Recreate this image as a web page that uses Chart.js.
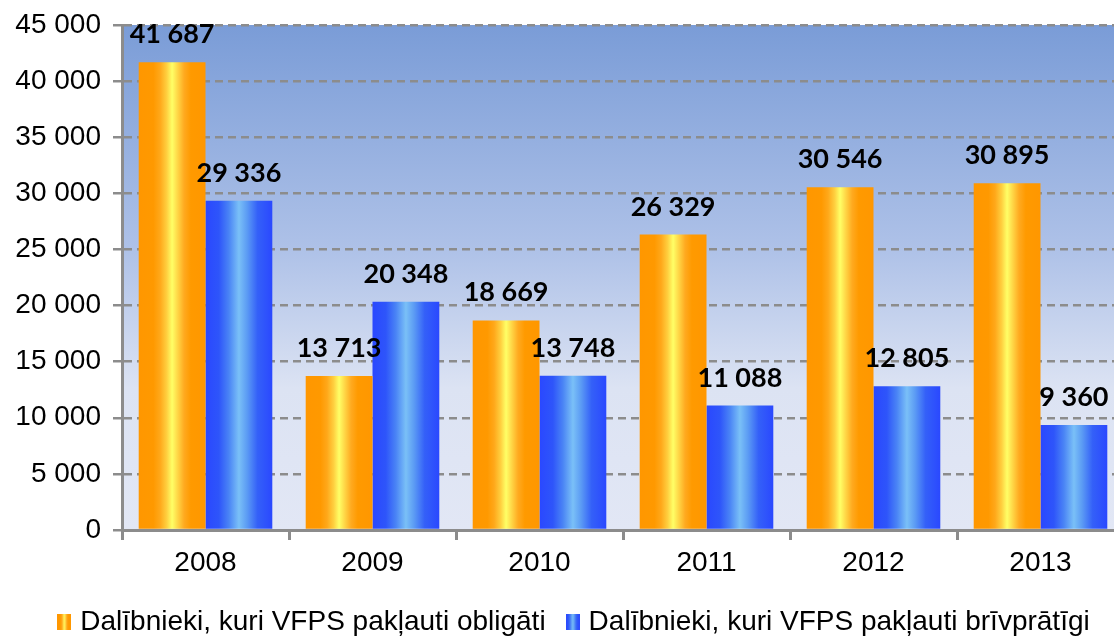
<!DOCTYPE html>
<html>
<head>
<meta charset="utf-8">
<script src="https://cdn.jsdelivr.net/npm/chart.js@4/dist/chart.umd.min.js"></script>
<style>
html,body{margin:0;padding:0;background:#fff;overflow:hidden;}
#wrap{position:absolute;left:0;top:0;width:1180px;height:637px;}
</style>
</head>
<body>
<div id="wrap"><canvas id="c"></canvas></div>
<script>
const categories = ['2008','2009','2010','2011','2012','2013'];
const obligati = [41687,13713,18669,26329,30546,30895];
const brivpratigi = [29336,20348,13748,11088,12805,9360];
const seriesNames = ['Dalībnieki, kuri VFPS pakļauti obligāti','Dalībnieki, kuri VFPS pakļauti brīvprātīgi'];
const yMax = 45000, yStep = 5000;

const orangeStops = [[0,'#FF9700'],[0.22,'#FF9900'],[0.32,'#FFA81A'],[0.42,'#FFD040'],[0.5,'#FFFF66'],[0.58,'#FFD848'],[0.68,'#FFAA20'],[0.78,'#FF9A00'],[1,'#FF9700']];
const blueStops = [[0,'#2A48FF'],[0.2,'#2E55FA'],[0.35,'#4A84F5'],[0.5,'#7AC0F7'],[0.62,'#5C9CF4'],[0.78,'#3460F8'],[1,'#2A48FF']];

function fmt(v){return String(v).replace(/\B(?=(\d{3})+(?!\d))/g,' ');}

function barGrad(ctx, side){
  const chart = ctx.chart, xs = chart.scales && chart.scales.x;
  const stops = side===0 ? orangeStops : blueStops;
  if(!xs || !chart.chartArea || ctx.dataIndex===undefined) return stops[1][1];
  const c = xs.getPixelForValue(ctx.dataIndex);
  const cw = xs.width / categories.length;
  const bw = cw*0.8/2;
  const x0 = side===0 ? c-bw : c;
  const g = chart.ctx.createLinearGradient(x0,0,x0+bw,0);
  stops.forEach(s=>g.addColorStop(s[0],s[1]));
  return g;
}

function legendIcon(stops){
  const cv = document.createElement('canvas');
  cv.width = 14; cv.height = 16;
  const x = cv.getContext('2d');
  const g = x.createLinearGradient(0,0,14,0);
  stops.forEach(s=>g.addColorStop(s[0],s[1]));
  x.fillStyle = g; x.fillRect(0,0,14,16);
  return cv;
}
const icons = [legendIcon(orangeStops), legendIcon(blueStops)];

const bgPlugin = {
  id:'bg',
  beforeDraw(chart){
    const a = chart.chartArea, c = chart.ctx;
    const g = c.createLinearGradient(0,a.top,0,a.bottom);
    g.addColorStop(0,'#7A9CD7');
    g.addColorStop(0.45,'#AFC2E8');
    g.addColorStop(0.72,'#DCE3F3');
    g.addColorStop(1,'#E2E7F5');
    c.save(); c.fillStyle = g; c.fillRect(a.left,a.top,a.right-a.left,a.bottom-a.top); c.restore();
  }
};

const legendShift = {
  id:'legendShift',
  afterLayout(chart){
    if(chart.legend){ chart.legend.left += 14; chart.legend.right += 14; }
  }
};

const labelPlugin = {
  id:'vals',
  afterDatasetsDraw(chart){
    const c = chart.ctx;
    c.save();
    c.font = 'bold 27px Lato';
    c.fillStyle = '#000';
    c.textAlign = 'center';
    c.textBaseline = 'alphabetic';
    chart.data.datasets.forEach((ds,di)=>{
      chart.getDatasetMeta(di).data.forEach((el,i)=>{
        c.fillText(fmt(ds.data[i]), el.x, el.y-19);
      });
    });
    c.restore();
  }
};

new Chart(document.getElementById('c'),{
  type:'bar',
  data:{
    labels:categories,
    datasets:[
      {label:seriesNames[0],data:obligati,backgroundColor:(ctx)=>barGrad(ctx,0),pointStyle:icons[0],categoryPercentage:0.8,barPercentage:1.0},
      {label:seriesNames[1],data:brivpratigi,backgroundColor:(ctx)=>barGrad(ctx,1),pointStyle:icons[1],categoryPercentage:0.8,barPercentage:1.0}
    ]
  },
  options:{
    responsive:true,maintainAspectRatio:false,animation:false,
    layout:{padding:{top:25,right:56,left:0,bottom:-9}},
    plugins:{
      tooltip:{enabled:false},
      legend:{
        position:'bottom',
        labels:{usePointStyle:true,pointStyleWidth:4,color:'#000',font:{family:'Liberation Sans',size:28},padding:25,boxWidth:14,boxHeight:16}
      }
    },
    scales:{
      x:{
        grid:{drawOnChartArea:false,offset:true,color:'#8C8C8C',lineWidth:3,tickLength:10,tickColor:'#8C8C8C'},
        border:{color:'#8C8C8C',width:3},
        ticks:{color:'#000',font:{family:'Liberation Sans',size:28},padding:6},
        afterFit(s){s.height=53;}
      },
      y:{
        min:0,max:yMax,
        grid:{color:'#8C8C8C',lineWidth:2.5,tickLength:9,tickColor:'#8C8C8C'},
        border:{color:'#8C8C8C',width:3,dash:[8,5]},
        ticks:{stepSize:yStep,color:'#000',font:{family:'Liberation Sans',size:28,lineHeight:0.5},padding:12,callback:(v)=>fmt(v)},
        afterFit(s){s.width=122;}
      }
    }
  },
  plugins:[bgPlugin,legendShift,labelPlugin]
});
</script>
</body>
</html>
